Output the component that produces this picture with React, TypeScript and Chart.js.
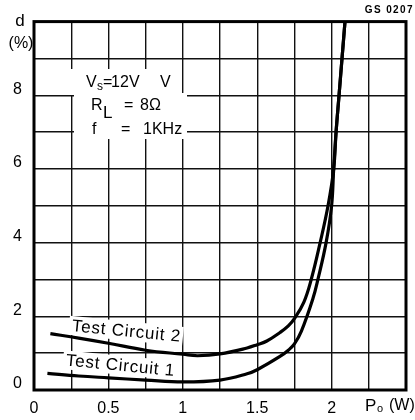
import React, { useEffect, useRef } from 'react';
import { Chart, registerables } from 'chart.js';

Chart.register(...registerables);

// Output power Po (W) vs distortion d (%)
const circuit1X = [0.09, 0.3, 0.5, 0.75, 1.0, 1.25, 1.432, 1.5, 1.653, 1.709, 1.75, 1.797, 1.875, 1.908, 1.963, 2.0, 2.014, 2.03, 2.05, 2.07, 2.09];
const circuit1Y = [0.45, 0.38, 0.33, 0.27, 0.22, 0.27, 0.44, 0.55, 0.91, 1.08, 1.25, 1.6, 2.49, 3, 4, 5, 6, 7, 8, 9, 10];
const circuit2X = [0.11, 0.3, 0.5, 0.75, 1.0, 1.1, 1.25, 1.432, 1.5, 1.565, 1.653, 1.709, 1.75, 1.813, 1.863, 1.923, 1.976, 2.014, 2.03, 2.05, 2.07, 2.09];
const circuit2Y = [1.53, 1.41, 1.27, 1.08, 0.97, 0.93, 0.98, 1.14, 1.23, 1.33, 1.56, 1.74, 1.94, 2.38, 3, 4, 5, 6, 7, 8, 9, 10];

const seriesNames = ['Test Circuit 1', 'Test Circuit 2'];
const xTickLabels = ['0', '0.5', '1', '1.5', '2'];
const yTickLabels = ['0', '2', '4', '6', '8'];

const FONT = '"Liberation Sans", Arial, Helvetica, sans-serif';

function drawTiltedLabel(ctx: CanvasRenderingContext2D, text: string, x: number, y: number, angle: number) {
  ctx.save();
  ctx.translate(x, y);
  ctx.rotate(angle);
  ctx.font = `17px ${FONT}`;
  (ctx as any).letterSpacing = '0.8px';
  const w = ctx.measureText(text).width;
  ctx.fillStyle = '#fff';
  ctx.fillRect(-3, -15, w + 5, 19);
  ctx.fillStyle = '#000';
  ctx.textBaseline = 'alphabetic';
  ctx.textAlign = 'left';
  ctx.fillText(text, 0, 0);
  ctx.restore();
}

const annotPlugin = {
  id: 'annot',
  beforeDatasetsDraw(chart: any) {
    const ctx: CanvasRenderingContext2D = chart.ctx;
    const xs = chart.scales.x;
    const ys = chart.scales.y;
    ctx.save();
    // white box behind the conditions block
    ctx.fillStyle = '#fff';
    ctx.fillRect(69, 69, 110, 26);
    ctx.fillRect(74, 93, 113, 46);

    ctx.fillStyle = '#000';
    ctx.textBaseline = 'alphabetic';
    ctx.textAlign = 'left';
    ctx.font = `16px ${FONT}`;
    // Vs = 12 V  V
    ctx.fillText('V', 86, 87);
    ctx.font = `12px ${FONT}`;
    ctx.fillText('s', 97, 90);
    ctx.font = `16px ${FONT}`;
    ctx.fillText('=', 103, 87);
    ctx.fillText('12', 111, 87);
    ctx.fillText('V', 129, 87);
    ctx.fillText('V', 160, 87);
    // RL = 8Ω
    ctx.fillText('R', 91, 110);
    ctx.font = `17px ${FONT}`;
    ctx.fillText('L', 103, 118);
    ctx.font = `16px ${FONT}`;
    ctx.fillText('=', 124, 110);
    ctx.fillText('8Ω', 140, 110);
    // f = 1KHz
    ctx.fillText('f', 92, 134);
    ctx.fillText('=', 121, 134);
    ctx.fillText('1KHz', 143, 134);

    // curve labels
    const ang = 5.6 * Math.PI / 180;
    drawTiltedLabel(ctx, seriesNames[1], xs.getPixelForValue(0.252), ys.getPixelForValue(1.6), ang);
    drawTiltedLabel(ctx, seriesNames[0], xs.getPixelForValue(0.212), ys.getPixelForValue(0.667), ang);
    ctx.restore();
  },
  afterDraw(chart: any) {
    const ctx: CanvasRenderingContext2D = chart.ctx;
    const a = chart.chartArea;
    ctx.save();
    ctx.strokeStyle = '#000';
    ctx.lineWidth = 3;
    ctx.strokeRect(a.left, a.top, a.right - a.left, a.bottom - a.top);

    ctx.fillStyle = '#000';
    ctx.textAlign = 'center';
    ctx.textBaseline = 'middle';
    ctx.font = `17px ${FONT}`;
    ctx.fillText('d', 20, 21);
    ctx.font = `16px ${FONT}`;
    ctx.fillText('(%)', 21, 44);

    // x axis unit
    ctx.textAlign = 'left';
    ctx.font = `17px ${FONT}`;
    ctx.fillText('P', 365, 406);
    ctx.font = `11px ${FONT}`;
    ctx.fillText('o', 377, 409);
    ctx.font = `16px ${FONT}`;
    ctx.fillText('(W)', 389, 406);

    // figure code
    ctx.textAlign = 'right';
    ctx.textBaseline = 'alphabetic';
    ctx.font = `bold 10px ${FONT}`;
    (ctx as any).letterSpacing = '1.4px';
    ctx.fillText('GS 0207', 414, 13);
    ctx.restore();
  },
};

export default function App() {
  const ref = useRef<HTMLCanvasElement | null>(null);

  useEffect(() => {
    document.body.style.margin = '0';
    if (!ref.current) return;
    const toPts = (xs: number[], ys: number[]) => xs.map((x, i) => ({ x, y: ys[i] }));
    const chart = new Chart(ref.current, {
      type: 'line',
      data: {
        datasets: [
          {
            label: seriesNames[0],
            data: toPts(circuit1X, circuit1Y),
            borderColor: '#000',
            borderWidth: 3.2,
            pointRadius: 0,
            tension: 0.4,
            fill: false,
          },
          {
            label: seriesNames[1],
            data: toPts(circuit2X, circuit2Y),
            borderColor: '#000',
            borderWidth: 3.2,
            pointRadius: 0,
            tension: 0.4,
            fill: false,
          },
        ],
      },
      options: {
        animation: false,
        responsive: true,
        maintainAspectRatio: false,
        layout: { padding: { top: 15, right: 4, left: 0, bottom: 0 } },
        plugins: { legend: { display: false }, tooltip: { enabled: false } },
        scales: {
          x: {
            type: 'linear',
            min: 0,
            max: 2.5,
            ticks: {
              stepSize: 0.25,
              autoSkip: false,
              maxRotation: 0,
              padding: 9,
              color: '#000',
              font: { family: FONT, size: 16 },
              callback: (v: any) => {
                const n = Math.round(Number(v) * 100) / 100;
                const idx = n / 0.5;
                if (Math.abs(idx - Math.round(idx)) < 1e-6 && Math.round(idx) < xTickLabels.length) {
                  return xTickLabels[Math.round(idx)];
                }
                return '';
              },
            },
            grid: { color: '#111', lineWidth: 1.4, drawTicks: false },
            border: { display: false },
            afterFit: (s: any) => { s.height = 30; },
          },
          y: {
            type: 'linear',
            min: 0,
            max: 10,
            ticks: {
              stepSize: 1,
              autoSkip: false,
              padding: 12,
              labelOffset: -6,
              color: '#000',
              font: { family: FONT, size: 16 },
              callback: (v: any) => {
                const n = Math.round(Number(v));
                if (n % 2 === 0 && n / 2 < yTickLabels.length) return yTickLabels[n / 2];
                return '';
              },
            },
            grid: { color: '#111', lineWidth: 1.4, drawTicks: false },
            border: { display: false },
            afterFit: (s: any) => { s.width = 34; },
          },
        },
      },
      plugins: [annotPlugin],
    } as any);
    return () => chart.destroy();
  }, []);

  return (
    <div style={{ width: 415, height: 420, position: 'relative', background: '#fff' }}>
      <canvas ref={ref} />
    </div>
  );
}
